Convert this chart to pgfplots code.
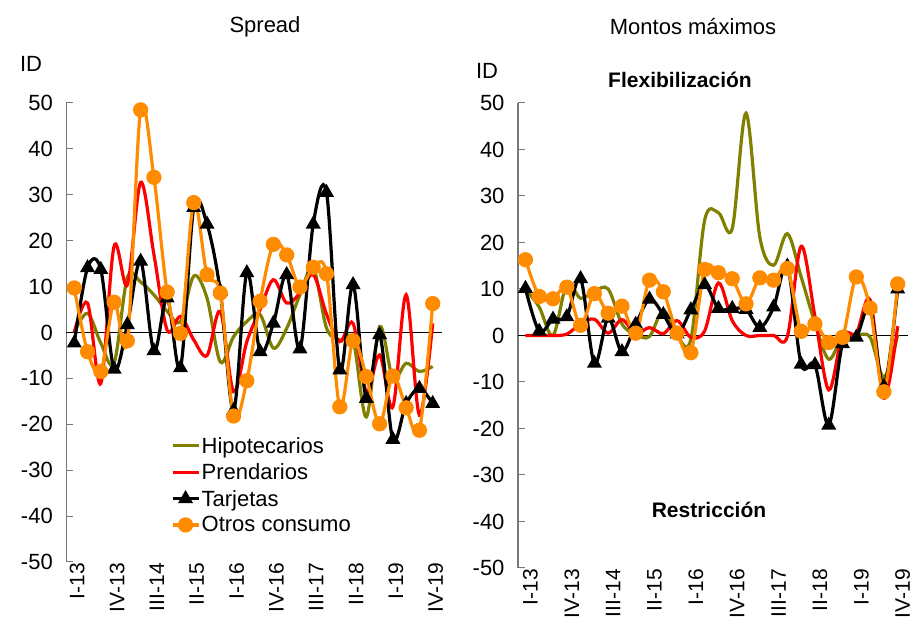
\documentclass[border=0pt]{standalone}
\usepackage{pgfplots}
\usepackage{pgfplotstable}
\pgfplotsset{compat=1.18}
\usepackage{fontspec}
\setmainfont{Liberation Sans}
\definecolor{olivec}{RGB}{128,128,0}
\definecolor{orangec}{RGB}{255,140,0}
\definecolor{axgray}{RGB}{120,120,120}

\pgfplotstableread{
q hip pre tar otr
0 0 0 -2.3 9.7
1 4.2 6.4 14.1 -4.2
2 -2.3 -11.1 13.7 -8.5
3 -6.7 18.8 -8 6.6
4 12 10.4 1.7 -1.8
5 11 32.7 15.5 48.5
6 8.2 17 -4 33.8
7 4.6 0.5 7.5 8.8
8 2.4 3.5 -7.7 -0.2
9 12.3 -1.6 27.2 28.3
10 7.5 -5 23.6 12.6
11 -6.4 4.6 9 8.6
12 -0.9 -12.9 -17 -18.2
13 2.4 -2 13 -10.5
14 3.9 5 -4.2 6.8
15 -3.4 11.5 2 19.2
16 0.9 6.4 12.6 16.9
17 8.2 8.6 -3.6 9.9
18 14.1 12.6 23.6 14.2
19 1 4 30.5 12.8
20 -1.6 -2 -8.2 -16.2
21 -1.6 2 10.4 -1.8
22 -18.4 -12.9 -14.4 -9.6
23 1.3 -4.9 -0.5 -19.9
24 -10 -16.2 -23.3 -9.5
25 -6.7 8.2 -15.5 -16.4
26 -8.5 -18 -12.2 -21.3
27 -7.4 2 -15.5 6.3
}\spreadtab

\pgfplotstableread{
q hip pre tar otr
0 10 0 10.1 16.3
1 6.1 0 0.9 8.4
2 0 0 3.5 7.9
3 11 0.3 4 10.4
4 8 2.5 12.2 2.2
5 9.5 3.5 -6 9
6 10 0.5 3.7 4.8
7 2.5 3.4 -3.5 6.3
8 0.2 0.4 2.4 0.5
9 -0.2 1.7 7.8 11.9
10 5.4 0.4 4.5 9.4
11 0 3.2 0.3 0.5
12 -0.8 -0.4 5.5 -3.7
13 24.8 1 10.9 14.2
14 26.4 11.3 5.8 13.5
15 23 3.2 5.8 12.2
16 47.8 0 5.6 6.8
17 21.2 0 1.7 12.4
18 15.1 0 6.1 11.9
19 21.9 -0.2 14.9 14.4
20 12.6 19.2 -6.2 0.9
21 2.7 4.1 -6.3 2.5
22 -5.1 -11.7 -19.3 -1.5
23 -0.2 0.1 -1.8 -0.4
24 0 0.5 -0.4 12.6
25 -0.4 7.7 5.9 5.9
26 -9 -13.5 -11 -12.1
27 0.1 2 10 11.1
}\montostab

\pgfplotsset{
  panel/.style={
    scale only axis,
    axis lines*=left,
    axis line style={-},
    x axis line style={draw=none},
    y axis line style={axgray, line width=1.2pt},
    ymin=-50, ymax=50,
    ytick={-50,-40,-30,-20,-10,0,10,20,30,40,50},
    yticklabels={-50,-40,-30,-20,-10,0,10,20,30,40,50},
    tick align=inside,
    major tick length=7pt,
    ytick style={axgray, line width=1pt},
    xtick style={draw=none},
    xtick={0,3,6,9,12,15,18,21,24,27},
    xticklabels={I-13,IV-13,III-14,II-15,I-16,IV-16,III-17,II-18,I-19,IV-19},
    xticklabel style={rotate=90, anchor=east, inner sep=1pt, font=\fontsize{21}{22}\selectfont},
    yticklabel style={font=\fontsize{22}{24}\selectfont, xshift=-10pt},
    clip=false,
  },
  hipst/.style={olivec, line width=3.2pt, smooth, tension=0.55, no markers},
  prest/.style={red, line width=3.2pt, smooth, tension=0.55, no markers},
  tarst/.style={black, line width=3.2pt, smooth, tension=0.55, mark=triangle*, mark size=5.5pt, mark options={solid}},
  otrst/.style={orangec, line width=3.2pt, smooth, tension=0.55, mark=*, mark size=6pt, mark options={solid}},
}

\begin{document}
\begin{tikzpicture}
\useasboundingbox (0,0) rectangle (919pt,637pt);
\begin{axis}[panel,
  at={(66.3pt,75pt)}, anchor=south west,
  width=375.7pt, height=459pt,
  xmin=-0.6, xmax=27.7,
  xticklabel style={yshift=-3pt},
  legend style={at={(0.27,0.28)}, anchor=north west, draw=none, fill=none,
    font=\fontsize{22}{24}\selectfont, row sep=6pt,
    nodes={inner sep=1.5pt}},
  legend cell align=left,
  legend image code/.code={\draw[mark repeat=2,mark phase=2,#1] plot coordinates {(0pt,0pt) (13pt,0pt) (26pt,0pt)};},
]
\addplot[black, line width=0.9pt, forget plot] coordinates {(-0.6,0) (27.7,0)};
\addplot[hipst] table[x=q,y=hip] {\spreadtab};
\addlegendentry{Hipotecarios}
\addplot[prest] table[x=q,y=pre] {\spreadtab};
\addlegendentry{Prendarios}
\addplot[tarst] table[x=q,y=tar] {\spreadtab};
\addlegendentry{Tarjetas}
\addplot[otrst] table[x=q,y=otr] {\spreadtab};
\addlegendentry{Otros consumo}
\end{axis}

\begin{axis}[panel,
  at={(518pt,69pt)}, anchor=south west,
  width=390pt, height=465pt,
  xmin=-0.54, xmax=27.75,
  xticklabel style={yshift=-5pt},
]
\addplot[black, line width=0.9pt, forget plot] coordinates {(-0.54,0) (27.75,0)};
\addplot[hipst] table[x=q,y=hip] {\montostab};
\addplot[prest] table[x=q,y=pre] {\montostab};
\addplot[tarst] table[x=q,y=tar] {\montostab};
\addplot[otrst] table[x=q,y=otr] {\montostab};
\end{axis}

\node[font=\fontsize{22}{24}\selectfont] at (265pt,610pt) {Spread};
\node[font=\fontsize{22}{24}\selectfont] at (693pt,610pt) {Montos máximos};
\node[font=\fontsize{22}{24}\selectfont] at (31pt,573pt) {ID};
\node[font=\fontsize{22}{24}\selectfont] at (487pt,566pt) {ID};
\node[font=\bfseries\fontsize{21}{24}\selectfont] at (680pt,557pt) {Flexibilización};
\node[font=\bfseries\fontsize{21}{24}\selectfont] at (709pt,127pt) {Restricción};
\end{tikzpicture}
\end{document}
